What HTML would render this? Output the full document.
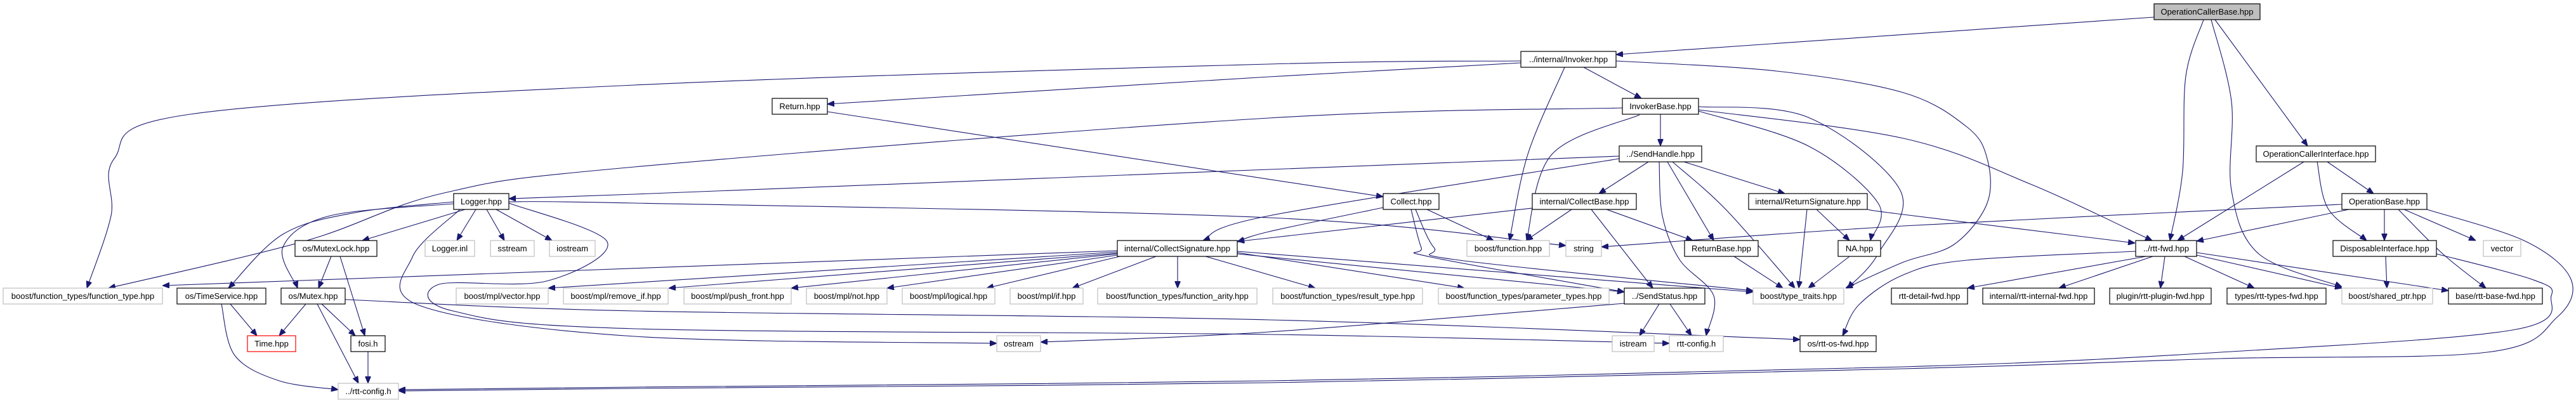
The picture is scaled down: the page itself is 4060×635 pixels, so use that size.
<!DOCTYPE html>
<html><head><meta charset="utf-8"><style>
html,body{margin:0;padding:0;background:#fff;}
svg{display:block;}
text{font-family:"Liberation Sans",sans-serif;font-size:13px;fill:#000;text-anchor:middle;}
.n{fill:#fff;stroke:#000;stroke-width:1.2;}
.g{fill:#fff;stroke:#bfbfbf;stroke-width:1.2;}
.r{fill:#fff;stroke:#ff0000;stroke-width:1.2;}
.f{fill:#bfbfbf;stroke:#000;stroke-width:1.2;}
.e{fill:none;stroke:#191970;stroke-width:1.1;}
</style></head><body>
<svg id="s" width="4060" height="635" viewBox="0 0 4060 635" xmlns="http://www.w3.org/2000/svg">
<defs><marker id="a" markerWidth="11" markerHeight="9" refX="11" refY="4.5" orient="auto" markerUnits="userSpaceOnUse"><path d="M0,0 L11,4.5 L0,9 z" fill="#191970" stroke="#191970"/></marker></defs>
<g id="edges"></g>
<g id="nodes">
<rect class="f" x="3395" y="6" width="167" height="25"/><text x="3478.5" y="23">OperationCallerBase.hpp</text>
<rect class="n" x="2397" y="81" width="150" height="25"/><text x="2472" y="98">../internal/Invoker.hpp</text>
<rect class="n" x="1217" y="155" width="87" height="25"/><text x="1260.5" y="172">Return.hpp</text>
<rect class="n" x="2557" y="155" width="120" height="25"/><text x="2617" y="172">InvokerBase.hpp</text>
<rect class="n" x="2552" y="230" width="130" height="25"/><text x="2617" y="247">../SendHandle.hpp</text>
<rect class="n" x="3556" y="230" width="188" height="25"/><text x="3650" y="247">OperationCallerInterface.hpp</text>
<rect class="n" x="715" y="305" width="87" height="25"/><text x="758.5" y="322">Logger.hpp</text>
<rect class="n" x="2180" y="305" width="88" height="25"/><text x="2224" y="322">Collect.hpp</text>
<rect class="n" x="2415" y="305" width="164" height="25"/><text x="2497" y="322">internal/CollectBase.hpp</text>
<rect class="n" x="2756" y="305" width="187" height="25"/><text x="2849.5" y="322">internal/ReturnSignature.hpp</text>
<rect class="n" x="3691" y="305" width="134" height="25"/><text x="3758" y="322">OperationBase.hpp</text>
<rect class="n" x="465" y="379" width="129" height="25"/><text x="529.5" y="396">os/MutexLock.hpp</text>
<rect class="g" x="670" y="379" width="78" height="25"/><text x="709" y="396">Logger.inl</text>
<rect class="g" x="773" y="379" width="69" height="25"/><text x="807.5" y="396">sstream</text>
<rect class="g" x="866" y="379" width="72" height="25"/><text x="902" y="396">iostream</text>
<rect class="n" x="1761" y="379" width="189" height="25"/><text x="1855.5" y="396">internal/CollectSignature.hpp</text>
<rect class="g" x="2312" y="379" width="130" height="25"/><text x="2377" y="396">boost/function.hpp</text>
<rect class="g" x="2468" y="379" width="56" height="25"/><text x="2496" y="396">string</text>
<rect class="n" x="2655" y="379" width="116" height="25"/><text x="2713" y="396">ReturnBase.hpp</text>
<rect class="n" x="2897" y="379" width="67" height="25"/><text x="2930.5" y="396">NA.hpp</text>
<rect class="n" x="3366" y="379" width="96" height="25"/><text x="3414" y="396">../rtt-fwd.hpp</text>
<rect class="n" x="3677" y="379" width="163" height="25"/><text x="3758.5" y="396">DisposableInterface.hpp</text>
<rect class="g" x="3914" y="379" width="59" height="25"/><text x="3943.5" y="396">vector</text>
<rect class="g" x="5" y="454" width="251" height="25"/><text x="130.5" y="471">boost/function_types/function_type.hpp</text>
<rect class="n" x="279" y="454" width="140" height="25"/><text x="349" y="471">os/TimeService.hpp</text>
<rect class="n" x="443" y="454" width="101" height="25"/><text x="493.5" y="471">os/Mutex.hpp</text>
<rect class="g" x="719" y="454" width="145" height="25"/><text x="791.5" y="471">boost/mpl/vector.hpp</text>
<rect class="g" x="888" y="454" width="165" height="25"/><text x="970.5" y="471">boost/mpl/remove_if.hpp</text>
<rect class="g" x="1078" y="454" width="169" height="25"/><text x="1162.5" y="471">boost/mpl/push_front.hpp</text>
<rect class="g" x="1271" y="454" width="127" height="25"/><text x="1334.5" y="471">boost/mpl/not.hpp</text>
<rect class="g" x="1422" y="454" width="146" height="25"/><text x="1495" y="471">boost/mpl/logical.hpp</text>
<rect class="g" x="1592" y="454" width="115" height="25"/><text x="1649.5" y="471">boost/mpl/if.hpp</text>
<rect class="g" x="1730" y="454" width="251" height="25"/><text x="1855.5" y="471">boost/function_types/function_arity.hpp</text>
<rect class="g" x="2006" y="454" width="236" height="25"/><text x="2124" y="471">boost/function_types/result_type.hpp</text>
<rect class="g" x="2267" y="454" width="269" height="25"/><text x="2401.5" y="471">boost/function_types/parameter_types.hpp</text>
<rect class="n" x="2560" y="454" width="127" height="25"/><text x="2623.5" y="471">../SendStatus.hpp</text>
<rect class="g" x="2763" y="454" width="143" height="25"/><text x="2834.5" y="471">boost/type_traits.hpp</text>
<rect class="n" x="2981" y="454" width="120" height="25"/><text x="3041" y="471">rtt-detail-fwd.hpp</text>
<rect class="n" x="3125" y="454" width="176" height="25"/><text x="3213" y="471">internal/rtt-internal-fwd.hpp</text>
<rect class="n" x="3325" y="454" width="160" height="25"/><text x="3405" y="471">plugin/rtt-plugin-fwd.hpp</text>
<rect class="n" x="3510" y="454" width="156" height="25"/><text x="3588" y="471">types/rtt-types-fwd.hpp</text>
<rect class="g" x="3691" y="454" width="143" height="25"/><text x="3762.5" y="471">boost/shared_ptr.hpp</text>
<rect class="n" x="3859" y="454" width="148" height="25"/><text x="3933" y="471">base/rtt-base-fwd.hpp</text>
<rect class="r" x="390" y="529" width="76" height="25"/><text x="428" y="546">Time.hpp</text>
<rect class="n" x="553" y="529" width="54" height="25"/><text x="580" y="546">fosi.h</text>
<rect class="g" x="1571" y="529" width="69" height="25"/><text x="1605.5" y="546">ostream</text>
<rect class="g" x="2541" y="529" width="66" height="25"/><text x="2574" y="546">istream</text>
<rect class="g" x="2631" y="529" width="85" height="25"/><text x="2673.5" y="546">rtt-config.h</text>
<rect class="n" x="2837" y="529" width="120" height="25"/><text x="2897" y="546">os/rtt-os-fwd.hpp</text>
<rect class="g" x="533" y="604" width="95" height="25"/><text x="580.5" y="621">../rtt-config.h</text>
</g>
</svg>
<script>
var E=[
[[3395,27],[2547,86]],
[[3473,31],[3445,120],[3440,270],[3420,379]],
[[3485,31],[3517,160],[3517,300],[3560,400],[3691,452]],
[[3491,31],[3560,125],[3637,230]],
[[2397,96],[2000,101],[1000,134],[300,180],[180,250],[175,340],[137,454]],
[[2397,99],[2000,121],[1304,164]],
[[2496,106],[2587,155]],
[[2466,106],[2408,243],[2379,379]],
[[2547,96],[2800,112],[3000,146],[3100,200],[3132,250],[3132,320],[3080,385],[3000,413],[2909,454]],
[[1304,176],[2180,310]],
[[2617,180],[2617,230]],
[[2557,170],[2000,186],[1000,263],[700,304],[480,380],[171,454]],
[[2584,181],[2446,243],[2406,379]],
[[2677,175],[2850,230],[2960,320],[2948,379]],
[[2677,168],[2850,185],[2995,300],[2960,400],[2912,454]],
[[2677,173],[3000,218],[3200,290],[3392,379]],
[[2552,246],[2000,267],[1000,306],[802,313]],
[[2552,250],[2000,340],[1896,379]],
[[2598,255],[2520,305]],
[[2654,255],[2813,305]],
[[2628,255],[2701,379]],
[[2636,255],[2720,330],[2829,454]],
[[2615,255],[2620,340],[2647,409],[2701,466],[2689,529]],
[[2249,330],[2354,379]],
[[2180,327],[2000,365],[1950,381]],
[[2224,330],[2240,390],[2255,405],[2560,460]],
[[2231,330],[2260,390],[2300,410],[2763,458]],
[[733,330],[571,379]],
[[750,330],[720,379]],
[[767,330],[795,379]],
[[782,330],[870,379]],
[[715,318],[560,335],[446,369],[360,454]],
[[715,321],[520,340],[446,389],[469,454]],
[[802,318],[1000,320],[2000,343],[2468,387]],
[[725,330],[650,405],[663,482],[1000,530],[1571,541]],
[[802,320],[957,381],[861,443],[692,448],[714,490],[1000,518],[2000,527],[2631,541]],
[[544,472],[1000,490],[2000,504],[2837,535]],
[[522,404],[502,454]],
[[536,404],[575,529]],
[[363,479],[405,529]],
[[349,479],[370,560],[440,600],[533,614]],
[[482,479],[440,529]],
[[507,479],[560,529]],
[[500,479],[565,604]],
[[580,554],[580,604]],
[[1761,395],[256,450]],
[[1761,397],[864,454]],
[[1761,399],[1054,454]],
[[1761,400],[1247,454]],
[[1761,402],[1398,454]],
[[1765,404],[1555,454]],
[[1822,404],[1690,454]],
[[1856,404],[1856,454]],
[[1900,404],[2073,454]],
[[1950,398],[2308,454]],
[[1950,400],[2560,460]],
[[1950,396],[2763,460]],
[[2415,328],[2000,375],[1950,380]],
[[2477,330],[2405,379]],
[[2532,330],[2668,379]],
[[2508,330],[2605,454]],
[[2848,330],[2835,454]],
[[2863,330],[2915,379]],
[[2943,330],[3000,338],[3365,383]],
[[2733,404],[2810,454]],
[[2915,404],[2850,454]],
[[2615,479],[2584,529]],
[[2632,479],[2666,529]],
[[2560,478],[2000,523],[1640,539]],
[[3631,255],[3432,379]],
[[3668,255],[3741,305]],
[[3652,255],[3670,330],[3730,379]],
[[3691,322],[3000,356],[2524,389]],
[[3702,330],[3462,380]],
[[3758,330],[3758,379]],
[[3789,330],[3902,379]],
[[3780,330],[3850,400],[3918,454]],
[[3825,330],[3980,380],[4052,440],[4030,500],[3920,555],[3500,565],[3000,581],[2000,603],[1000,612],[628,616]],
[[3760,404],[3762,454]],
[[3840,400],[3990,440],[4021,466],[3960,520],[3500,555],[3000,578],[2000,600],[1000,610],[628,614]],
[[3382,404],[3101,454]],
[[3393,404],[3245,454]],
[[3412,404],[3405,454]],
[[3443,404],[3553,454]],
[[3462,402],[3691,454]],
[[3462,398],[3859,458]],
[[3366,396],[3100,410],[3000,433],[2930,480],[2904,529]]
];
var g=document.getElementById('edges'),NS='http://www.w3.org/2000/svg';
E.forEach(function(p){
  var d='M'+p[0][0]+','+p[0][1];
  if(p.length==2){d+=' L'+p[1][0]+','+p[1][1];}
  else{
    for(var i=0;i<p.length-1;i++){
      var p0=p[i-1]||p[i],p1=p[i],p2=p[i+1],p3=p[i+2]||p2;
      var c1=[p1[0]+(p2[0]-p0[0])/6,p1[1]+(p2[1]-p0[1])/6];
      var c2=[p2[0]-(p3[0]-p1[0])/6,p2[1]-(p3[1]-p1[1])/6];
      d+=' C'+c1[0]+','+c1[1]+' '+c2[0]+','+c2[1]+' '+p2[0]+','+p2[1];
    }
  }
  var e=document.createElementNS(NS,'path');
  e.setAttribute('d',d);e.setAttribute('class','e');e.setAttribute('marker-end','url(#a)');
  g.appendChild(e);
});
</script>
</body></html>
